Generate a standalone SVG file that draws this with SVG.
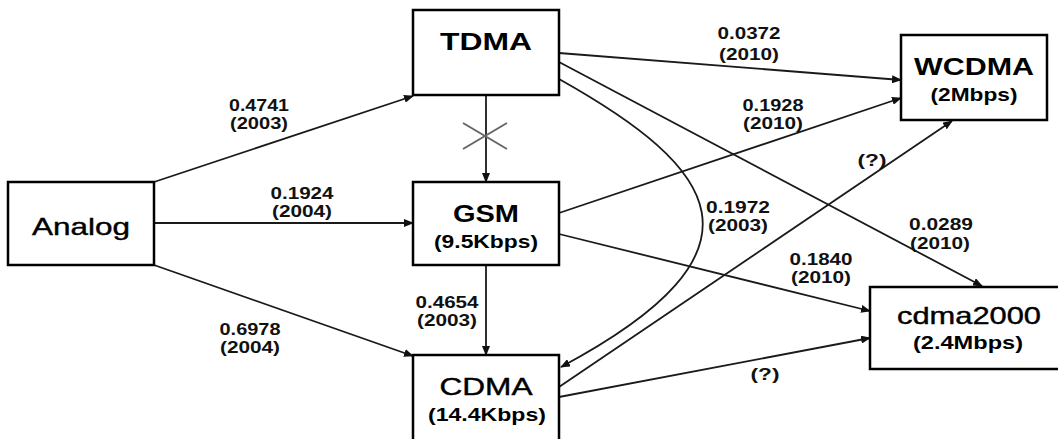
<svg xmlns="http://www.w3.org/2000/svg" width="1058" height="439" viewBox="0 0 1058 439">
<defs>
<marker id="arr" markerUnits="userSpaceOnUse" markerWidth="10" markerHeight="8" refX="9" refY="4" orient="auto">
<path d="M0,0 L10,4 L0,8 z" fill="#111"/>
</marker>
<style>
.box{fill:#fff;stroke:#000;stroke-width:2.5}
.edge{fill:none;stroke:#1a1a1a;stroke-width:1.8;marker-end:url(#arr)}
.big{font-family:"Liberation Sans",Arial,sans-serif;font-size:24px;text-anchor:middle;fill:#000;stroke:#000;stroke-width:0.4}
.bigb{font-family:"Liberation Sans",Arial,sans-serif;font-size:24px;font-weight:bold;text-anchor:middle;fill:#000}
.sub{font-family:"Liberation Sans",Arial,sans-serif;font-size:18px;font-weight:bold;text-anchor:middle;fill:#000}
.lbl{font-family:"Liberation Sans",Arial,sans-serif;font-size:16px;font-weight:bold;text-anchor:middle;fill:#111}
.cross{stroke:#666;stroke-width:2}
</style>
</defs>
<rect width="1058" height="439" fill="#fff"/>
<g id="connectors">
<path class="edge" d="M154,182 L413,96"/>
<path class="edge" d="M154,223 L413,223"/>
<path class="edge" d="M154,265 L413,356"/>
<path class="edge" d="M486,95 L486,182"/>
<path class="edge" d="M486,265 L486,355"/>
<path class="edge" d="M559,53 L901,80"/>
<path class="edge" d="M559,213 L901,98"/>
<path class="edge" d="M559,62 L982,286"/>
<path class="edge" d="M559,79 C718,168 780,250 561,367"/>
<path class="edge" d="M559,387 L952,121"/>
<path class="edge" d="M559,234 L870,311"/>
<path class="edge" d="M559,397 L870,338"/>
<line class="cross" x1="463" y1="123" x2="507" y2="149"/>
<line class="cross" x1="463" y1="149" x2="507" y2="123"/>
</g>
<g id="edge-labels">
<text class="lbl" x="259" y="111" textLength="60" lengthAdjust="spacingAndGlyphs">0.4741</text>
<text class="lbl" x="259" y="129" textLength="58" lengthAdjust="spacingAndGlyphs">(2003)</text>
<text class="lbl" x="302" y="199" textLength="63" lengthAdjust="spacingAndGlyphs">0.1924</text>
<text class="lbl" x="302" y="217" textLength="60" lengthAdjust="spacingAndGlyphs">(2004)</text>
<text class="lbl" x="250" y="335" textLength="61" lengthAdjust="spacingAndGlyphs">0.6978</text>
<text class="lbl" x="250" y="353" textLength="60" lengthAdjust="spacingAndGlyphs">(2004)</text>
<text class="lbl" x="447" y="308" textLength="63" lengthAdjust="spacingAndGlyphs">0.4654</text>
<text class="lbl" x="447" y="326" textLength="60" lengthAdjust="spacingAndGlyphs">(2003)</text>
<text class="lbl" x="749" y="39" textLength="63" lengthAdjust="spacingAndGlyphs">0.0372</text>
<text class="lbl" x="749" y="60" textLength="60" lengthAdjust="spacingAndGlyphs">(2010)</text>
<text class="lbl" x="773" y="111" textLength="61" lengthAdjust="spacingAndGlyphs">0.1928</text>
<text class="lbl" x="773" y="129" textLength="60" lengthAdjust="spacingAndGlyphs">(2010)</text>
<text class="lbl" x="872" y="166" textLength="29" lengthAdjust="spacingAndGlyphs">(?)</text>
<text class="lbl" x="738" y="213" textLength="64" lengthAdjust="spacingAndGlyphs">0.1972</text>
<text class="lbl" x="738" y="231" textLength="60" lengthAdjust="spacingAndGlyphs">(2003)</text>
<text class="lbl" x="941" y="230" textLength="64" lengthAdjust="spacingAndGlyphs">0.0289</text>
<text class="lbl" x="940" y="249" textLength="60" lengthAdjust="spacingAndGlyphs">(2010)</text>
<text class="lbl" x="821" y="265" textLength="63" lengthAdjust="spacingAndGlyphs">0.1840</text>
<text class="lbl" x="821" y="283" textLength="60" lengthAdjust="spacingAndGlyphs">(2010)</text>
<text class="lbl" x="765" y="380" textLength="29" lengthAdjust="spacingAndGlyphs">(?)</text>
</g>
<g id="analog">
<rect class="box" x="8" y="182" width="146" height="83"/>
<text class="big" x="81" y="235" textLength="98" lengthAdjust="spacingAndGlyphs">Analog</text>
</g>
<g id="tdma">
<rect class="box" x="413" y="10" width="146" height="85"/>
<text class="bigb" x="486" y="50" textLength="92" lengthAdjust="spacingAndGlyphs">TDMA</text>
</g>
<g id="gsm">
<rect class="box" x="413" y="182" width="146" height="83"/>
<text class="bigb" x="486" y="222" textLength="66" lengthAdjust="spacingAndGlyphs">GSM</text>
<text class="sub" x="486" y="248" textLength="104" lengthAdjust="spacingAndGlyphs">(9.5Kbps)</text>
</g>
<g id="cdma">
<rect class="box" x="413" y="355" width="146" height="95"/>
<text class="big" x="486" y="395" textLength="93" lengthAdjust="spacingAndGlyphs">CDMA</text>
<text class="sub" x="487" y="421" textLength="118" lengthAdjust="spacingAndGlyphs">(14.4Kbps)</text>
</g>
<g id="wcdma">
<rect class="box" x="901" y="35" width="146" height="85"/>
<text class="bigb" x="974" y="75" textLength="120" lengthAdjust="spacingAndGlyphs">WCDMA</text>
<text class="sub" x="974" y="101" textLength="87" lengthAdjust="spacingAndGlyphs">(2Mbps)</text>
</g>
<g id="cdma2000">
<rect class="box" x="870" y="287" width="200" height="82"/>
<text class="big" x="969" y="324" textLength="144" lengthAdjust="spacingAndGlyphs">cdma2000</text>
<text class="sub" x="968" y="349" textLength="110" lengthAdjust="spacingAndGlyphs">(2.4Mbps)</text>
</g>
</svg>
